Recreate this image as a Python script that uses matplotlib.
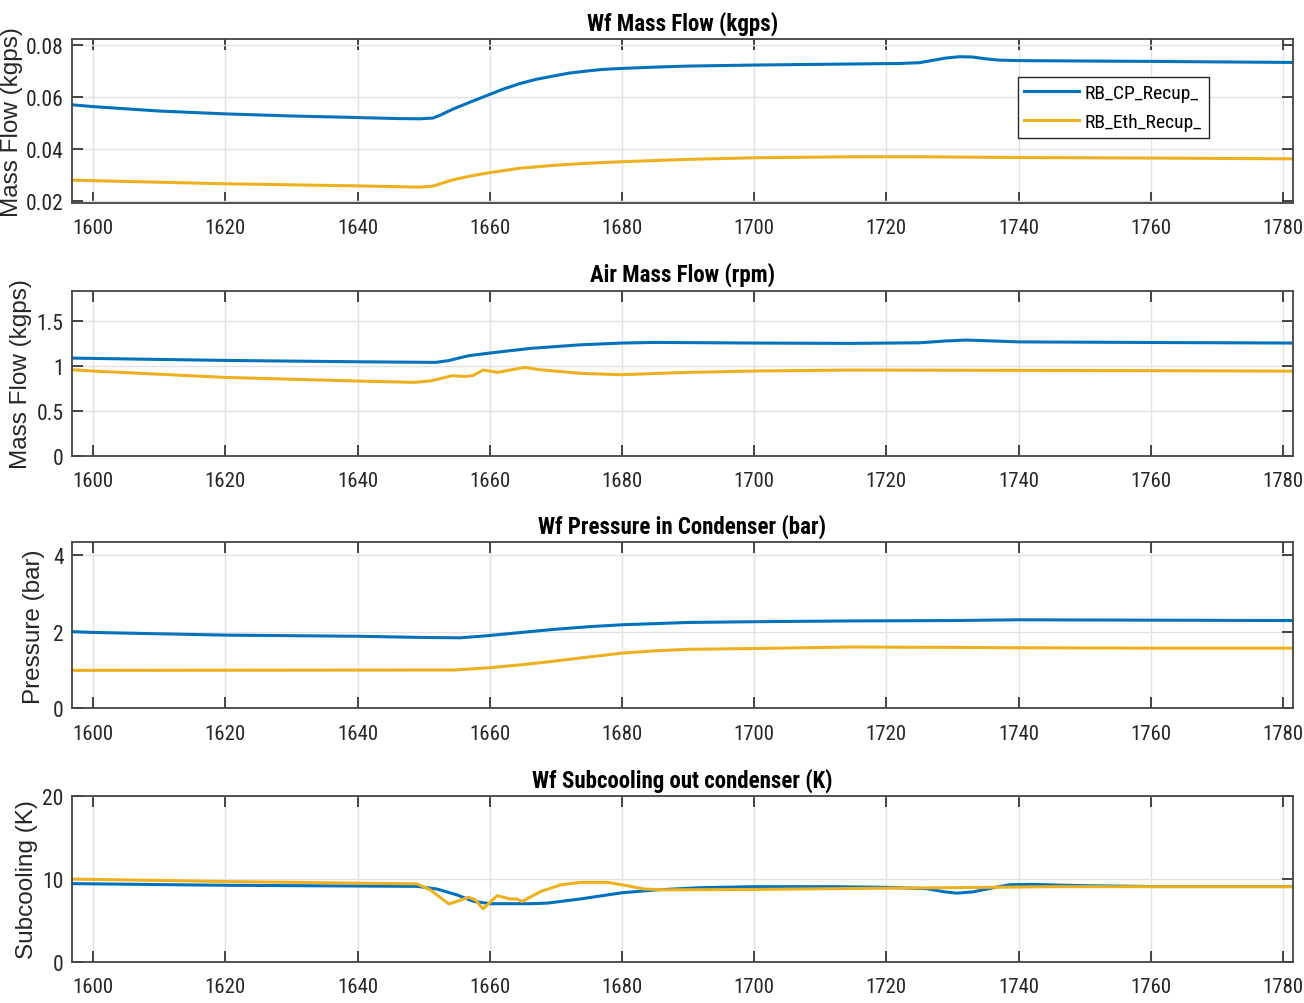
import matplotlib
matplotlib.use("Agg")
import matplotlib.pyplot as plt
from matplotlib import font_manager
from matplotlib.font_manager import FontProperties

# MATLAB export looks horizontally squeezed -> try to find a narrow/condensed face
fonts = font_manager.fontManager.ttflist
names = set(f.name for f in fonts)
narrow_family, narrow_stretch = "Liberation Sans", "normal"
for cand in ["Liberation Sans Narrow", "Roboto Condensed", "Open Sans Condensed", "Arial Narrow"]:
    if cand in names:
        narrow_family = cand
        break
else:
    for f in fonts:
        if f.name in ("Liberation Sans", "DejaVu Sans", "Roboto", "Open Sans", "Noto Sans") \
                and "condensed" in str(f.stretch):
            narrow_family, narrow_stretch = f.name, "condensed"
            break


def nfont(size, weight="normal"):
    return FontProperties(family=narrow_family, stretch=narrow_stretch, size=size, weight=weight)


blue = "#0072BD"
yellow = "#EDB120"
labels = ["RB_CP_Recup_", "RB_Eth_Recup_"]

# --- Wf mass flow (kgps)
t_mf_cp = [1596.8, 1600, 1610, 1620, 1630, 1640, 1646, 1649.4, 1651.4, 1652.5, 1654.4, 1657.1,
           1660, 1662, 1664.6, 1667, 1669.7, 1672, 1674.7, 1677, 1680, 1685, 1690, 1700, 1714.6,
           1722, 1725, 1727, 1729, 1731, 1733, 1735, 1737, 1740, 1760, 1781.5]
mf_cp = [0.0570, 0.0563, 0.0546, 0.0535, 0.0527, 0.0521, 0.0517, 0.0516, 0.0519, 0.0530, 0.0553, 0.0581,
         0.0610, 0.0630, 0.0652, 0.0668, 0.0681, 0.0692, 0.0700, 0.0706, 0.0710, 0.0715, 0.0719, 0.0723,
         0.0727, 0.0729, 0.0732, 0.0741, 0.0750, 0.0755, 0.0754, 0.0747, 0.0742, 0.0740, 0.0737, 0.0733]
t_mf_eth = [1596.8, 1600, 1620, 1640, 1649.4, 1651.4, 1652.5, 1654.4, 1657.1, 1660, 1664.6, 1669.7,
            1674.7, 1680, 1690, 1700, 1714.6, 1725, 1740, 1760, 1781.5]
mf_eth = [0.0280, 0.0278, 0.0266, 0.0258, 0.0253, 0.0257, 0.0266, 0.0281, 0.0296, 0.0309, 0.0326, 0.0337,
          0.0345, 0.0351, 0.0360, 0.0366, 0.0370, 0.0370, 0.0367, 0.0365, 0.0362]

# --- Air mass flow
t_air_cp = [1596.8, 1600, 1620, 1640, 1651.8, 1653.7, 1656.8, 1660, 1666.2, 1673.8, 1680, 1685,
            1700, 1714.6, 1725, 1729, 1732, 1735, 1740, 1760, 1781.5]
air_cp = [1.085, 1.081, 1.059, 1.044, 1.037, 1.056, 1.111, 1.141, 1.193, 1.233, 1.252, 1.259,
          1.252, 1.248, 1.255, 1.275, 1.285, 1.278, 1.265, 1.258, 1.252]
t_air_eth = [1596.8, 1600, 1620, 1640, 1648.6, 1651.2, 1654.3, 1656.2, 1657.4, 1659, 1661.2, 1663.1,
             1665.3, 1667.5, 1673.8, 1680, 1684.3, 1690, 1700, 1714.6, 1730, 1760, 1781.5]
air_eth = [0.956, 0.941, 0.870, 0.830, 0.815, 0.833, 0.889, 0.881, 0.889, 0.952, 0.926, 0.952,
           0.981, 0.956, 0.915, 0.900, 0.912, 0.926, 0.941, 0.952, 0.950, 0.945, 0.940]

# --- condenser pressure (bar)
t_p_cp = [1596.8, 1600, 1620, 1640, 1649.5, 1655.6, 1660, 1664.8, 1669.7, 1675, 1680, 1690, 1700,
          1714.6, 1730, 1740, 1760, 1781.5]
p_cp = [2.00, 1.98, 1.91, 1.88, 1.85, 1.84, 1.90, 1.98, 2.06, 2.13, 2.18, 2.24, 2.26,
        2.28, 2.29, 2.31, 2.30, 2.29]
t_p_eth = [1596.8, 1654.5, 1660, 1665, 1669.7, 1675, 1680, 1685, 1690, 1700, 1714.6, 1730, 1740,
           1760, 1781.5]
p_eth = [0.99, 1.00, 1.06, 1.14, 1.23, 1.34, 1.44, 1.50, 1.54, 1.56, 1.60, 1.59, 1.58, 1.57, 1.57]

# --- subcooling (K)
t_sc_cp = [1596.8, 1620, 1649, 1652, 1655, 1657.6, 1660.1, 1666.2, 1668.7, 1673.7, 1680, 1685.3,
           1691.9, 1700, 1712, 1720, 1726.1, 1728.7, 1730.7, 1733.2, 1736.2, 1738.7, 1741.8,
           1750, 1760, 1781.5]
sc_cp = [9.45, 9.25, 9.12, 8.8, 8.1, 7.3, 7.03, 7.03, 7.1, 7.6, 8.35, 8.7,
         8.96, 9.08, 9.08, 9.0, 8.84, 8.47, 8.3, 8.47, 8.96, 9.32, 9.36,
         9.2, 9.1, 9.1]
t_sc_eth = [1596.8, 1620, 1649, 1651, 1653.8, 1655, 1656.8, 1657.8, 1659, 1661.1, 1663.1, 1664.1,
            1664.9, 1667.7, 1670.7, 1673.7, 1677.8, 1680.8, 1683.3, 1686.8, 1700, 1720, 1735,
            1745, 1781.5]
sc_eth = [10.0, 9.7, 9.42, 8.7, 7.0, 7.3, 7.8, 7.5, 6.4, 8.0, 7.6, 7.6,
          7.3, 8.5, 9.3, 9.6, 9.6, 9.2, 8.8, 8.7, 8.75, 8.9, 9.0,
          9.08, 9.08]

xticks = list(range(1600, 1781, 20))

panels = [
    ("Wf Mass Flow (kgps)", "Mass Flow (kgps)", (t_mf_cp, mf_cp), (t_mf_eth, mf_eth),
     (0.0192, 0.0823), [0.02, 0.04, 0.06, 0.08], ["0.02", "0.04", "0.06", "0.08"]),
    ("Air Mass Flow (rpm)", "Mass Flow (kgps)", (t_air_cp, air_cp), (t_air_eth, air_eth),
     (0, 1.833), [0, 0.5, 1, 1.5], ["0", "0.5", "1", "1.5"]),
    ("Wf Pressure in Condenser (bar)", "Pressure (bar)", (t_p_cp, p_cp), (t_p_eth, p_eth),
     (0, 4.33), [0, 2, 4], ["0", "2", "4"]),
    ("Wf Subcooling out condenser (K)", "Subcooling (K)", (t_sc_cp, sc_cp), (t_sc_eth, sc_eth),
     (0, 20), [0, 10, 20], ["0", "10", "20"]),
]

# axes boxes in figure fractions [left, bottom, width, height]
boxes = [
    [0.0552, 0.7968, 0.9363, 0.1633],
    [0.0552, 0.5451, 0.9363, 0.1643],
    [0.0552, 0.2935, 0.9363, 0.1653],
    [0.0552, 0.0408, 0.9363, 0.1653],
]
# x of the right edge of each rotated y label (axes fraction)
ylabel_x = [-0.040, -0.033, -0.022, -0.028]

fig = plt.figure(figsize=(13.04, 10.04), dpi=100)
dark = "#262626"

for i, (title, ylab, cp, eth, ylim, yt, ytl) in enumerate(panels):
    ax = fig.add_axes(boxes[i])
    ax.plot(cp[0], cp[1], color=blue, lw=2.2, label=labels[0])
    ax.plot(eth[0], eth[1], color=yellow, lw=2.2, label=labels[1])
    ax.set_xlim(1596.8, 1781.5)
    ax.set_ylim(*ylim)
    ax.set_xticks(xticks)
    ax.set_xticklabels([str(x) for x in xticks], fontproperties=nfont(15), color=dark)
    ax.set_yticks(yt)
    ax.set_yticklabels(ytl, fontproperties=nfont(15.5), color=dark)
    ax.tick_params(axis="x", direction="in", length=8, width=1.2, color=dark, pad=11,
                   top=True, bottom=True)
    ax.tick_params(axis="y", direction="in", length=8, width=1.2, color=dark, pad=6,
                   left=True, right=True)
    ax.grid(True, color="#e2e2e2", lw=1)
    for s in ax.spines.values():
        s.set_color("#444444")
        s.set_linewidth(1.3)
    ax.set_title(title, fontproperties=nfont(16.5, "bold"), pad=7, color="black")
    ax.set_ylabel(ylab, family="Liberation Sans", fontsize=17.5, color=dark)
    ax.yaxis.set_label_coords(ylabel_x[i], 0.5)
    if i == 0:
        leg = ax.legend(loc="upper right", bbox_to_anchor=(0.931, 0.77), fancybox=False,
                        framealpha=1, edgecolor=dark, handlelength=2.8, handletextpad=0.3,
                        borderpad=0.35, labelspacing=0.6, borderaxespad=0,
                        prop=nfont(14))
        leg.get_frame().set_linewidth(1.0)

fig.savefig("out.png", dpi=100)
